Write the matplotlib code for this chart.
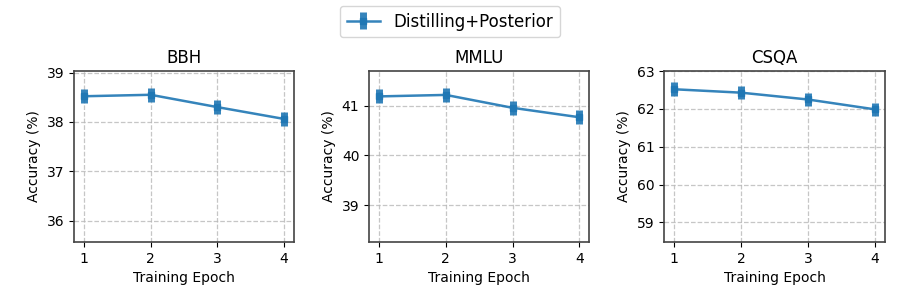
import matplotlib
matplotlib.use("Agg")
import matplotlib.pyplot as plt

epochs = [1, 2, 3, 4]
tasks = ["BBH", "MMLU", "CSQA"]
bbh = [38.52, 38.55, 38.30, 38.06]
mmlu = [41.19, 41.22, 40.96, 40.77]
csqa = [62.52, 62.43, 62.25, 61.99]
bbh_err = [0.14, 0.14, 0.14, 0.14]
mmlu_err = [0.14, 0.14, 0.14, 0.14]
csqa_err = [0.18, 0.18, 0.18, 0.18]
ylims = [(35.57, 39.03), (38.26, 41.70), (58.49, 63.0)]
yticks = [[36, 37, 38, 39], [39, 40, 41], [59, 60, 61, 62, 63]]
series_label = "Distilling+Posterior"

values = [bbh, mmlu, csqa]
errors = [bbh_err, mmlu_err, csqa_err]

fig, axes = plt.subplots(1, 3, figsize=(9, 3), dpi=100)
fig.subplots_adjust(left=0.082, right=0.983, top=0.763, bottom=0.194, wspace=0.34)

color = "#1f77b4"
handle = None
for ax, name, vals, errs, yl, yt in zip(axes, tasks, values, errors, ylims, yticks):
    h = ax.errorbar(epochs, vals, yerr=errs, color=color, marker="s", markersize=4,
                    linewidth=1.8, elinewidth=5, capsize=0, alpha=0.9,
                    label=series_label)
    handle = h
    ax.set_title(name, fontsize=12)
    ax.set_xlabel("Training Epoch", fontsize=10)
    ax.set_ylabel("Accuracy (%)", fontsize=10)
    ax.set_xticks(epochs)
    ax.set_yticks(yt)
    ax.set_ylim(*yl)
    ax.tick_params(labelsize=10)
    ax.grid(True, linestyle="--", color="#b8b8b8", alpha=0.8, linewidth=0.9)
    for s in ax.spines.values():
        s.set_color("#444444")
        s.set_linewidth(1.2)

fig.legend([handle], [series_label], loc="center", bbox_to_anchor=(0.5, 0.928),
           fontsize=12, ncol=1, frameon=True)

fig.savefig("out.png", dpi=100)
